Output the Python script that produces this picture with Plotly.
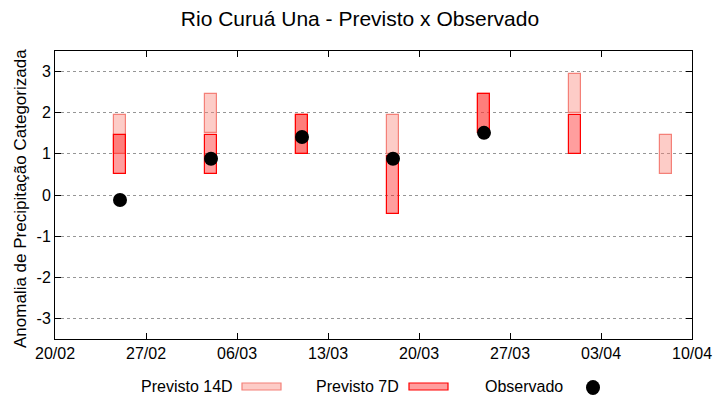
import plotly.graph_objects as go

# ---- data ----
dates_14d = ['2025-02-25', '2025-03-04', '2025-03-11', '2025-03-18', '2025-03-25', '2025-04-01', '2025-04-08']
p14_low = [1.0, 1.5, 1.0, 1.0, 1.5, 2.0, 0.5]
p14_high = [1.95, 2.45, 1.95, 1.95, 2.45, 2.95, 1.45]

dates_7d = ['2025-02-25', '2025-03-04', '2025-03-11', '2025-03-18', '2025-03-25', '2025-04-01']
p7_low = [0.5, 0.5, 1.0, -0.45, 1.5, 1.0]
p7_high = [1.45, 1.45, 1.95, 0.95, 2.45, 1.95]

dates_obs = ['2025-02-25', '2025-03-04', '2025-03-11', '2025-03-18', '2025-03-25']
obs = [-0.12, 0.88, 1.41, 0.88, 1.51]

x_ticks = ['2025-02-20', '2025-02-27', '2025-03-06', '2025-03-13', '2025-03-20',
           '2025-03-27', '2025-04-03', '2025-04-10']
x_ticktext = ['20/02', '27/02', '06/03', '13/03', '20/03', '27/03', '03/04', '10/04']
y_ticks = [-3, -2, -1, 0, 1, 2, 3]
y_ticktext = ['-3', '-2', '-1', '0', '1', '2', '3']

DAY = 86400000
FONT = 'Liberation Sans, Arial, sans-serif'
c14_fill = 'rgba(250,128,114,0.40)'
c14_line = 'rgb(244,128,120)'
c7_fill = 'rgba(255,0,0,0.38)'
c7_line = 'rgb(255,0,0)'

fig = go.Figure()
fig.add_trace(go.Bar(
    x=dates_14d, base=p14_low, y=[h - l for h, l in zip(p14_high, p14_low)],
    width=[0.88 * DAY] * len(dates_14d),
    marker=dict(color=c14_fill, line=dict(color=c14_line, width=1.2)),
    name='Previsto 14D', showlegend=False, hoverinfo='skip'))
fig.add_trace(go.Bar(
    x=dates_7d, base=p7_low, y=[h - l for h, l in zip(p7_high, p7_low)],
    width=[0.88 * DAY] * len(dates_7d),
    marker=dict(color=c7_fill, line=dict(color=c7_line, width=1.2)),
    name='Previsto 7D', showlegend=False, hoverinfo='skip'))
fig.add_trace(go.Scatter(
    x=dates_obs, y=obs, mode='markers',
    marker=dict(color='black', size=14, symbol='circle'),
    name='Observado', showlegend=False))

# custom gnuplot-style legend (text then sample)
def px(xp):
    return (xp - 55) / 637.0

def py(yp):
    return (339 - yp) / 288.0

legend_y = py(386)
for label, xend in [('Previsto 14D', 235), ('Previsto 7D', 401), ('Observado', 565)]:
    fig.add_annotation(text=label, x=px(xend), y=legend_y, xref='paper', yref='paper',
                       xanchor='right', yanchor='middle', showarrow=False,
                       font=dict(family=FONT, size=16, color='black'))
fig.add_shape(type='rect', xref='paper', yref='paper', x0=px(242), x1=px(281),
              y0=py(390), y1=py(383), fillcolor=c14_fill, line=dict(color=c14_line, width=1.2))
fig.add_shape(type='rect', xref='paper', yref='paper', x0=px(409), x1=px(448),
              y0=py(390), y1=py(383), fillcolor=c7_fill, line=dict(color=c7_line, width=1.2))
fig.add_shape(type='circle', xref='paper', yref='paper', x0=px(586), x1=px(600),
              y0=py(395), y1=py(380), fillcolor='black', line=dict(color='black', width=0))

# y-axis title (rotated text)
fig.add_annotation(text='Anomalia de Precipitação Categorizada', x=px(20), y=py(199),
                   xref='paper', yref='paper', xanchor='center', yanchor='middle',
                   textangle=-90, showarrow=False, font=dict(family=FONT, size=17, color='black'))

fig.update_layout(
    width=720, height=400,
    margin=dict(l=55, r=28, t=51, b=61, autoexpand=False),
    paper_bgcolor='white', plot_bgcolor='white',
    barmode='overlay', bargap=0,
    font=dict(family=FONT, size=16, color='black'),
    title=dict(text='Rio Curuá Una - Previsto x Observado', x=0.5, xanchor='center',
               y=0.953, yanchor='middle', font=dict(family=FONT, size=21, color='black')),
    showlegend=False,
)
fig.update_xaxes(
    type='date', range=['2025-02-20', '2025-04-10'],
    tickvals=x_ticks, ticktext=x_ticktext,
    ticks='inside', ticklen=6, tickcolor='black', tickwidth=1,
    showline=True, linecolor='black', linewidth=1, mirror='allticks',
    showgrid=False, zeroline=False, tickfont=dict(size=16), automargin=False,
)
fig.update_yaxes(
    range=[-3.5, 3.5], tickvals=y_ticks, ticktext=y_ticktext,
    ticks='inside', ticklen=6, tickcolor='black', tickwidth=1,
    showline=True, linecolor='black', linewidth=1, mirror='allticks',
    showgrid=True, gridcolor='rgb(150,150,150)', griddash='dot', gridwidth=1,
    zeroline=False, tickfont=dict(size=16), automargin=False,
)

fig.write_html('out.html', config={'displayModeBar': False},
               post_script="document.body.style.margin='0';document.body.style.overflow='hidden';")
